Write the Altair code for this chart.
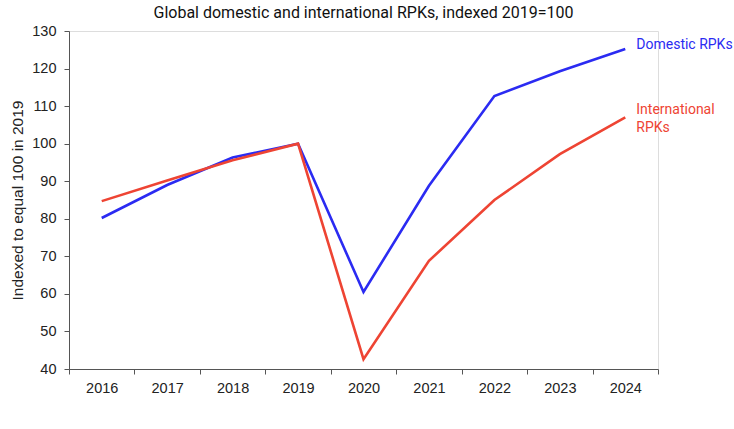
import altair as alt
import pandas as pd

years = ["2016", "2017", "2018", "2019", "2020", "2021", "2022", "2023", "2024"]
domestic = [80.2, 89.0, 96.3, 100.0, 60.5, 88.8, 112.7, 119.3, 125.2]
international = [84.7, 90.2, 95.6, 100.0, 42.6, 68.8, 85.0, 97.2, 107.0]

BLUE = "#2b2bf2"
RED = "#ee4433"

df = pd.DataFrame({
    "year": years * 2,
    "value": domestic + international,
    "series": ["Domestic RPKs"] * len(years) + ["International RPKs"] * len(years),
})

x = alt.X(
    "year:O",
    scale=alt.Scale(type="band", paddingInner=0, paddingOuter=0),
    bandPosition=0.5,
    axis=alt.Axis(
        title=None, labelAngle=0, tickBand="extent", labelFont="Liberation Sans",
        labelFontSize=14.5, labelColor="#222222", labelPadding=7, domainColor="#555555",
        tickColor="#555555", tickSize=5, grid=False,
    ),
)
y = alt.Y(
    "value:Q",
    scale=alt.Scale(domain=[40, 130], nice=False, zero=False),
    axis=alt.Axis(
        title="Indexed to equal 100 in 2019", values=list(range(40, 131, 10)),
        titleFont="Liberation Sans", titleFontSize=15.5, titleFontWeight="normal",
        titleColor="#222222", titlePadding=6,
        labelFont="Liberation Sans", labelFontSize=14.5, labelColor="#222222",
        labelPadding=8, domainColor="#555555", tickColor="#555555", tickSize=5, grid=False,
    ),
)

lines = alt.Chart(df).mark_line(strokeWidth=2.6).encode(
    x=x, y=y,
    color=alt.Color("series:N", scale=alt.Scale(domain=["Domestic RPKs", "International RPKs"], range=[BLUE, RED]), legend=None),
)

last_dom = pd.DataFrame({"year": [years[-1]], "value": [domestic[-1]], "label": ["Domestic RPKs"]})
last_int = pd.DataFrame({"year": [years[-1]], "value": [international[-1]], "label": [["International", "RPKs"]]})

lab_dom = alt.Chart(last_dom).mark_text(
    align="left", baseline="middle", dx=11, dy=-4, font="Roboto", fontSize=14, color=BLUE
).encode(x=x, y=y, text="label")

lab_int = alt.Chart(last_int).mark_text(
    align="left", baseline="top", dx=11, dy=-14, font="Roboto", fontSize=14, color=RED, lineHeight=18
).encode(x=x, y=y, text="label")

chart = alt.layer(lines, lab_dom, lab_int).properties(
    width=589, height=338,
    title=alt.Title("Global domestic and international RPKs, indexed 2019=100",
                    font="Roboto", fontSize=16, fontWeight="normal", color="#111111",
                    anchor="middle", offset=2),
    autosize=alt.AutoSizeParams(type="none"),
    padding={"left": 69, "top": 31, "right": 76, "bottom": 60},
).configure_view(stroke=None).configure(background="white")

chart.save("out.html", embed_options={"renderer": "svg", "actions": False})
